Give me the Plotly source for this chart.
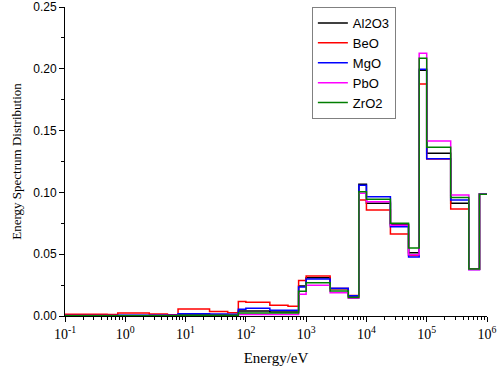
import plotly.graph_objects as go

# Bin edges (eV)
edges = [0.1, 0.25, 0.5, 0.75, 1, 2.5, 5, 7.5, 10, 25, 50, 75, 100, 250, 500, 750,
         1e3, 2.5e3, 5e3, 7.5e3, 1e4, 2.5e4, 5e4, 7.5e4, 1e5, 2.5e5, 5e5, 7.5e5, 1e6]

al2o3 = [0.0003, 0.0003, 0.0003, 0.0005, 0.0005, 0.0005, 0.0005, 0.0012, 0.0012, 0.0011,
         0.0010, 0.0040, 0.0040, 0.0033, 0.0032, 0.0243, 0.0310, 0.0220, 0.0162, 0.1066,
         0.0912, 0.0740, 0.0512, 0.1988, 0.1316, 0.0912, 0.0378, 0.0988]
beo = [0.0014, 0.0014, 0.0013, 0.0025, 0.0025, 0.0016, 0.0011, 0.0056, 0.0056, 0.0036,
       0.0026, 0.0118, 0.0112, 0.0087, 0.0079, 0.0287, 0.0324, 0.0222, 0.0165, 0.0939,
       0.0858, 0.0663, 0.0489, 0.1877, 0.1270, 0.0866, 0.0378, 0.0987]
mgo = [0.0004, 0.0004, 0.0004, 0.0006, 0.0006, 0.0006, 0.0006, 0.0018, 0.0018, 0.0016,
       0.0015, 0.0055, 0.0062, 0.0047, 0.0046, 0.0235, 0.0300, 0.0224, 0.0163, 0.1057,
       0.0965, 0.0723, 0.0478, 0.1996, 0.1273, 0.0939, 0.0376, 0.0987]
pbo = [0.0001, 0.0001, 0.0001, 0.0002, 0.0002, 0.0002, 0.0002, 0.0004, 0.0004, 0.0004,
       0.0004, 0.0012, 0.0012, 0.0012, 0.0012, 0.0175, 0.0248, 0.0189, 0.0143, 0.0993,
       0.0925, 0.0735, 0.0495, 0.2125, 0.1416, 0.0979, 0.0375, 0.0986]
zro2 = [0.0002, 0.0002, 0.0002, 0.0003, 0.0003, 0.0003, 0.0003, 0.0007, 0.0007, 0.0007,
        0.0007, 0.0025, 0.0025, 0.0025, 0.0025, 0.0200, 0.0270, 0.0202, 0.0150, 0.1006,
        0.0944, 0.0750, 0.0550, 0.2085, 0.1365, 0.0958, 0.0380, 0.0986]

series_names = ["Al2O3", "BeO", "MgO", "PbO", "ZrO2"]
series_values = [al2o3, beo, mgo, pbo, zro2]
colors = ["#000000", "#ff0000", "#0000ff", "#ff00ff", "#008000"]

exponents = [-1, 0, 1, 2, 3, 4, 5, 6]
tick_text = ["10<sup>%d</sup>" % e for e in exponents]
y_ticks = [0.0, 0.05, 0.10, 0.15, 0.20, 0.25]

fig = go.Figure()
for name, vals, col in zip(series_names, series_values, colors):
    fig.add_trace(go.Scatter(
        x=edges, y=list(vals) + [vals[-1]], name=name, mode="lines",
        line=dict(color=col, width=1.5, shape="hv"),
    ))

major_vals = [10 ** e for e in exponents]
minor_vals = [m * 10 ** e for e in exponents[:-1] for m in range(2, 10)]

fig.update_layout(
    width=498, height=368,
    margin=dict(l=65, r=11, t=7, b=52),
    paper_bgcolor="white", plot_bgcolor="white",
    showlegend=True,
    legend=dict(
        x=0.585, y=1.0, xanchor="left", yanchor="top",
        bgcolor="white", bordercolor="#808080", borderwidth=1,
        font=dict(family="Arial, Liberation Sans", size=13, color="black"),
        tracegroupgap=0, itemwidth=30,
    ),
    xaxis=dict(
        type="log", range=[-1, 6], automargin=False,
        tickmode="array", tickvals=major_vals, ticktext=tick_text,
        ticks="outside", ticklen=5, tickwidth=1, tickcolor="black",
        minor=dict(tickmode="array", tickvals=minor_vals, ticks="outside",
                   ticklen=3, tickwidth=1, tickcolor="black"),
        showline=True, linecolor="black", linewidth=1,
        showgrid=False, zeroline=False,
        tickfont=dict(family="Times New Roman, Liberation Serif", size=14, color="black"),
        title=dict(text="Energy/eV", standoff=11,
                   font=dict(family="Times New Roman, Liberation Serif", size=15, color="black")),
    ),
    yaxis=dict(
        range=[0, 0.25], automargin=False,
        tickmode="array", tickvals=y_ticks, tickformat=".2f",
        ticks="outside", ticklen=5, tickwidth=1, tickcolor="black",
        minor=dict(dtick=0.025, ticks="outside", ticklen=3, tickwidth=1, tickcolor="black"),
        showline=True, linecolor="black", linewidth=1,
        showgrid=False, zeroline=False,
        tickfont=dict(family="Arial, Liberation Sans", size=12, color="black"),
        title=dict(text="Energy Spectrum Distribution", standoff=8,
                   font=dict(family="Times New Roman, Liberation Serif", size=13, color="black")),
    ),
)

fig.write_html("out.html", config={"displayModeBar": False},
               post_script="document.body.style.margin='0';document.body.style.overflow='hidden';")
